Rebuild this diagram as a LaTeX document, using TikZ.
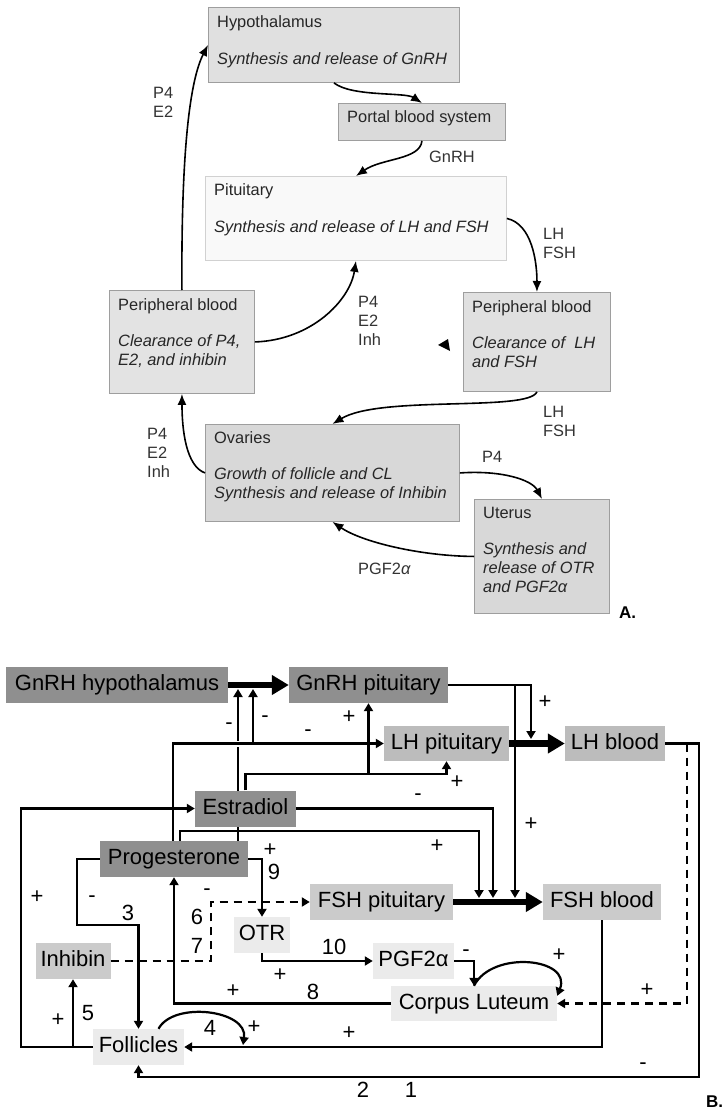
\documentclass[tikz,border=0pt]{standalone}
\usepackage{fontspec}
\setmainfont{Liberation Sans}
\usetikzlibrary{arrows.meta,calc,backgrounds}

\definecolor{hypfill}{HTML}{E0E0E0}
\definecolor{portfill}{HTML}{DADADA}
\definecolor{pitfill}{HTML}{F9F9F9}
\definecolor{pbfill}{HTML}{E3E3E3}
\definecolor{ovfill}{HTML}{D8D8D8}
\definecolor{bdark}{HTML}{8F8F8F}
\definecolor{bmid}{HTML}{BCBCBC}
\definecolor{blight}{HTML}{CBCBCB}
\definecolor{bpale}{HTML}{EBEBEB}

\tikzset{
  fontA/.style={font=\fontsize{16.4}{19}\selectfont},
  organ/.style={draw=black!38, line width=0.9pt, anchor=north west, inner sep=0pt},
  organtxt/.style={anchor=north west, align=left, inner sep=0pt, xshift=9pt, yshift=-8pt, text=black!85, fontA},
  flowA/.style={line width=1.6pt, -{Latex[length=11pt,width=9pt]}},
  hormA/.style={anchor=north west, align=left, inner sep=0pt, text=black!80, fontA},
  var/.style={inner sep=0pt, minimum height=36pt, text height=16pt, text depth=4.5pt, font=\fontsize{22}{26}\selectfont},
  thin/.style={line width=2.2pt},
  tip/.style={-{Triangle[length=8pt,width=9pt]}},
  mainflow/.style={line width=6.5pt, -{Triangle[length=17pt,width=19pt]}},
  sgn/.style={font=\fontsize{22}{24}\selectfont, inner sep=0pt},
  dsh/.style={dash pattern=on 8pt off 6pt}
}

\begin{document}
\begin{tikzpicture}[x=1pt,y=-1pt]
\useasboundingbox (0,0) rectangle (723,1110);
\begin{scope}[on background layer]
  \fill[white] (0,0) rectangle (723,1110);
\end{scope}

% ---------- A ----------
\node[organ, fill=hypfill, minimum width=251pt, minimum height=75pt,
  label={[organtxt]north west:{Hypothalamus\\[18pt]\textit{Synthesis and release of GnRH}}}] (hyp) at (208,7) {};
\node[organ, fill=portfill, minimum width=167pt, minimum height=37pt,
  label={[organtxt, yshift=0.5pt]north west:{Portal blood system}}] (portal) at (338,103) {};
\node[organ, fill=pitfill, draw=black!18, minimum width=301pt, minimum height=84pt,
  label={[organtxt, yshift=1pt]north west:{Pituitary\\[18pt]\textit{Synthesis and release of LH and FSH}}}] (pit) at (205,176) {};
\node[organ, fill=pbfill, minimum width=145pt, minimum height=103pt,
  label={[organtxt]north west:{Peripheral blood\\[17pt]\textit{Clearance of P4,}\\\textit{E2, and inhibin}}}] (pbl) at (109,290) {};
\node[organ, fill=hypfill, minimum width=147pt, minimum height=99pt,
  label={[organtxt]north west:{Peripheral blood\\[17pt]\textit{Clearance of~ LH}\\\textit{and FSH}}}] (pbr) at (463,292) {};
\node[organ, fill=ovfill, minimum width=254pt, minimum height=97pt,
  label={[organtxt, yshift=1pt]north west:{Ovaries\\[17pt]\textit{Growth of follicle and CL}\\\textit{Synthesis and release of Inhibin}}}] (ova) at (205,424) {};
\node[organ, fill=ovfill, minimum width=135pt, minimum height=114pt,
  label={[organtxt]north west:{Uterus\\[17pt]\textit{Synthesis and}\\\textit{release of OTR}\\\textit{and PGF2α}}}] (ute) at (474,499) {};

\node[hormA] (lpe) at (153,87) {P4\\E2};
\node[hormA] (lgn) at (429,151) {GnRH};
\node[hormA] (llf) at (543,228) {LH\\FSH};
\node[hormA] (lpei) at (358,296) {P4\\E2\\Inh};
\node[hormA] (llfb) at (543,406) {LH\\FSH};
\node[hormA] (lpeo) at (147,428) {P4\\E2\\Inh};
\node[hormA] (lpu) at (482,451) {P4};
\node[hormA] (lpgf) at (358,563) {PGF2\textit{α}};

\draw[flowA] (hyp.south) .. controls (352,97) and (405,92) .. (portal.north);
\draw[flowA] (portal.south) .. controls (420,160) and (382,158) .. (pit.north);
\draw[flowA] (pbl.north) .. controls (181,150) and (190,80) .. (hyp.west);
\draw[flowA] (pit.east) .. controls (532,224) and (537,262) .. (pbr.north);
\draw[flowA] (pbl.east) .. controls (312,340) and (350,300) .. (pit.south);
\draw[flowA] (pbr.south) .. controls (528,412) and (380,395) .. (ova.north);
\draw[flowA] (ova.west) .. controls (186,466) and (182,430) .. (pbl.south);
\draw[flowA] (ova.east) .. controls (502,470) and (532,480) .. (ute.north);
\draw[flowA] (ute.west) .. controls (420,556) and (362,542) .. (ova.south);
\fill (438,345) -- (448,339) -- (450,351) -- cycle;

\node[anchor=base west, inner sep=0pt, font=\bfseries\fontsize{17}{20}\selectfont] (tagA) at (619,618) {A.};

% ---------- B ----------
\node[var, fill=bdark, minimum width=222pt] (gnh) at (117,685) {GnRH hypothalamus};
\node[var, fill=bdark, minimum width=159pt] (gnp) at (368.5,685) {GnRH pituitary};
\node[var, fill=bmid, minimum width=125pt, minimum height=35pt] (lhp) at (446.5,743.5) {LH pituitary};
\node[var, fill=bmid, minimum width=100pt, minimum height=35pt] (lhb) at (615,743.5) {LH blood};
\node[var, fill=bdark, minimum width=101pt] (est) at (245.5,808.5) {Estradiol};
\node[var, fill=bdark, minimum width=148pt] (pro) at (174,859) {Progesterone};
\node[var, fill=blight, minimum width=143pt] (fsp) at (381.5,902) {FSH pituitary};
\node[var, fill=blight, minimum width=118pt] (fsb) at (602,902) {FSH blood};
\node[var, fill=bpale, minimum width=56pt] (otr) at (262,935) {OTR};
\node[var, fill=blight, minimum width=75pt] (inh) at (73,961) {Inhibin};
\node[var, fill=bpale, minimum width=81pt] (pgf) at (413.5,961) {PGF2α};
\node[var, fill=bpale, minimum width=166pt, minimum height=35pt] (cl) at (474,1003.5) {Corpus Luteum};
\node[var, fill=bpale, minimum width=91pt] (fol) at (138.5,1047) {Follicles};

\coordinate (ta) at (238,689);
\coordinate (tb) at (253,689);
\coordinate (ey) at (0,774);
\coordinate (py) at (0,831);
\coordinate (te) at (493,898);
\coordinate (tp) at (479,898);
\coordinate (tg) at (515,898);
\coordinate (tl) at (531,739);
\coordinate (rb) at (699,1077);
\coordinate (rd) at (687,1003.5);
\coordinate (lc) at (21,0);
\coordinate (pm) at (77,925);
\coordinate (id) at (211,961);
\coordinate (ft) at (243,1045);

\draw[mainflow] (gnh) -- (gnp);
\draw[mainflow] (lhp) -- (lhb);
\draw[mainflow] (fsp) -- (fsb);

\begin{scope}[on background layer]
  \draw[thin, tip] (pro.north -| ta) -- (ta);
\end{scope}
\draw[thin, tip, preaction={draw=white, line width=6pt, -}] ($(pro.north)+(-1,0)$) |- (lhp.west);
\draw[thin, tip] (tb |- lhp.west) -- (tb);
\draw[thin, tip] (est.north) |- (lhp.south |- ey) -- (lhp.south);
\draw[thin, tip] (gnp.south |- ey) -- (gnp.south);
\draw[thin, tip] (est.east) -| (te);
\draw[thin, tip] ($(pro.north)+(6,0)$) |- (tp |- py) -- (tp);
\draw[thin, tip] (gnp.east) -| (tg);
\draw[thin, tip] (gnp.east) -| (tl);
\draw[thin, tip] (lhb.east) -| (rb) -| (fol.south);
\draw[thin, tip, dsh] (rd |- lhb.east) |- (cl.east);
\draw[thin, tip] (fsb.south) |- (fol.east);
\draw[thin, tip] (fol.west) -| (lc |- est.west) -- (est.west);
\draw[thin, tip] (fol.west -| inh.south) -- (inh.south);
\draw[thin, tip] (pro.west) -| (pm) -| (fol.north);
\draw[thin, tip, dsh] (inh.east) -- (id) |- (fsp.west);
\draw[thin, tip] (pro.east) -| (otr.north);
\draw[thin, tip] (otr.south) |- (pgf.west);
\draw[thin, tip] (cl.west) -| (pro.south);
\draw[thin, tip] (pgf.east) -| (cl.north);
\draw[thin, tip] (cl.north) .. controls +(18,-36) and +(15,-38) .. ($(cl.north east)+(0,10)$);
\draw[thin, tip] ($(fol.north)+(20,0)$) .. controls +(15,-28) and +(5,-35) .. (ft);

\foreach \x/\y/\t [count=\i] in {229/726/-, 265/719/-, 308/733/-, 349/717/+, 457/782/+,
    418/797/-, 437/846/+, 531/824/+, 545/702/+, 643/1066/-, 363/1090/2, 411/1090/1,
    647/990/+, 349/1033/+, 37/897/+, 58/1020/+, 88/1013/5, 92/899/-, 128/913/3,
    207/892/-, 197/917/6, 197/946/7, 270/850/+, 274/872/9, 334/947/10, 280/975/+,
    233/991/+, 313/992/8, 466/953/-, 559/955/+, 210/1028/4, 254/1027/+}
  \node[sgn] (sg\i) at (\x,\y) {\t};

\node[anchor=base west, inner sep=0pt, font=\bfseries\fontsize{17}{20}\selectfont] (tagB) at (706,1107) {B.};
\end{tikzpicture}
\end{document}
